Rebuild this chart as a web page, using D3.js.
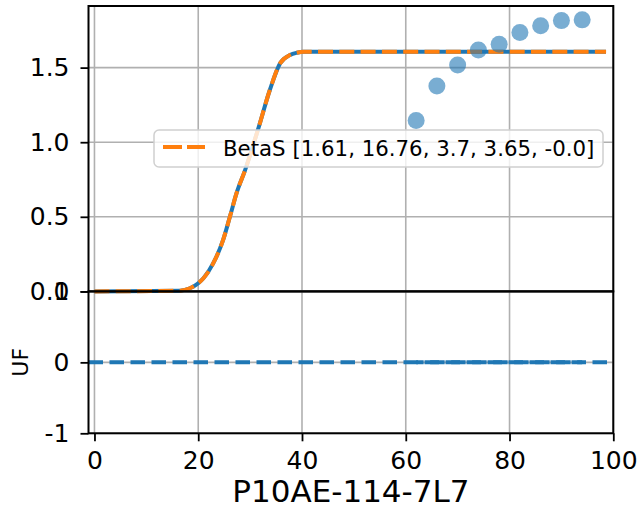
<!DOCTYPE html>
<html><head><meta charset="utf-8">
<script src="https://cdn.jsdelivr.net/npm/d3@7"></script>
<style>body{margin:0;background:#fff}svg{display:block}text{font-family:"DejaVu Sans",sans-serif}</style>
</head><body><svg id="c" width="642" height="507"></svg>
<script>
// ---- data ----
const pointX = [62, 66, 70, 74, 78, 82, 86, 90, 94];
const pointY = [1.145, 1.377, 1.518, 1.618, 1.657, 1.735, 1.781, 1.815, 1.82];
const curveX = [0, 16.5, 18.4, 20, 21.0, 22.9, 24.8, 26.1, 27.4, 29.0, 31.6, 33.8, 35.8, 37.7, 39, 40.3, 98.6];
const curveY = [0, 0.005, 0.021, 0.055, 0.088, 0.189, 0.345, 0.50, 0.66, 0.81, 1.094, 1.35, 1.53, 1.585, 1.60, 1.607, 1.607];
const residX = [62, 66, 70, 74, 78, 82, 86, 90, 94];
const residY = [0, 0, 0, 0, 0, 0, 0, 0, 0];
const xTicks = [0, 20, 40, 60, 80, 100];
const topTicks = [0.0, 0.5, 1.0, 1.5];
const botTicks = [-1, 0, 1];
const legendLabel = "BetaS [1.61, 16.76, 3.7, 3.65, -0.0]";
const xLabel = "P10AE-114-7L7";
const yLabelBottom = "UF";

const svg = d3.select("#c");
const L = 88.5, R = 613.3, T = 6, M = 291.4, B = 433.3;
const x = d3.scaleLinear().domain([-1.15, 100]).range([L, R]);
const yT = d3.scaleLinear().domain([0, 1.913]).range([M, T]);
const yB = d3.scaleLinear().domain([-1, 1]).range([B, M]);
const blue = "#1f77b4", orange = "#ff7f0e", grid = "#b0b0b0";

// grids
const g = svg.append("g");
xTicks.forEach(t => {
  g.append("line").attr("x1", x(t)).attr("x2", x(t)).attr("y1", T).attr("y2", B)
    .attr("stroke", grid).attr("stroke-width", 1.6);
});
topTicks.forEach(t => g.append("line").attr("x1", L).attr("x2", R).attr("y1", yT(t)).attr("y2", yT(t)).attr("stroke", grid).attr("stroke-width", 1.6));
botTicks.forEach(t => g.append("line").attr("x1", L).attr("x2", R).attr("y1", yB(t)).attr("y2", yB(t)).attr("stroke", grid).attr("stroke-width", 1.6));

// top panel curves
const curve = curveX.map((v, i) => [v, curveY[i]]);
const lineT = d3.line().x(d => x(d[0])).y(d => yT(d[1])).curve(d3.curveMonotoneX);
svg.append("path").attr("d", lineT(curve)).attr("fill", "none").attr("stroke", blue).attr("stroke-width", 4);
svg.append("path").attr("d", lineT(curve)).attr("fill", "none").attr("stroke", orange).attr("stroke-width", 4)
  .attr("stroke-dasharray", "15,6.3");

// points
svg.append("g").selectAll("circle").data(pointX.map((v, i) => [v, pointY[i]])).join("circle")
  .attr("cx", d => x(d[0])).attr("cy", d => yT(d[1])).attr("r", 8.5)
  .attr("fill", blue).attr("fill-opacity", 0.6);

// bottom panel
const lineB = d3.line().x(d => x(d[0])).y(d => yB(d[1]));
svg.append("path").attr("d", lineB([[-1.15, 0], [100, 0]])).attr("fill", "none").attr("stroke", blue)
  .attr("stroke-width", 4).attr("stroke-dasharray", "14.5,6.5");
svg.append("path").attr("d", lineB(residX.map((v, i) => [v, residY[i]]))).attr("fill", "none").attr("stroke", blue)
  .attr("stroke-width", 4).attr("stroke-dasharray", "14.5,6.5").attr("stroke-dashoffset", 7);

// legend
const lg = svg.append("g");
lg.append("rect").attr("x", 154).attr("y", 130).attr("width", 449).attr("height", 37).attr("rx", 5)
  .attr("fill", "#fff").attr("fill-opacity", 0.8).attr("stroke", "#d0d0d0").attr("stroke-width", 1.5);
lg.append("line").attr("x1", 163).attr("x2", 205).attr("y1", 147).attr("y2", 147)
  .attr("stroke", orange).attr("stroke-width", 4).attr("stroke-dasharray", "19,5");
lg.append("text").attr("x", 223).attr("y", 156).attr("font-size", 21.3).attr("fill", "#000").text(legendLabel);

// axes
const fmtT = d3.format(".1f");
const axT = svg.append("g").attr("transform", `translate(${L},0)`)
  .call(d3.axisLeft(yT).tickValues(topTicks).tickFormat(fmtT).tickSize(8).tickPadding(11));
const axB = svg.append("g").attr("transform", `translate(${L},0)`)
  .call(d3.axisLeft(yB).tickValues(botTicks).tickFormat(d3.format("d")).tickSize(8).tickPadding(11));
const axX = svg.append("g").attr("transform", `translate(0,${B})`)
  .call(d3.axisBottom(x).tickValues(xTicks).tickFormat(d3.format("d")).tickSize(8).tickPadding(10));
[axT, axB, axX].forEach(a => {
  a.select(".domain").remove();
  a.selectAll(".tick line").attr("stroke", "#000").attr("stroke-width", 1.8);
  a.selectAll("text").attr("font-size", 25).attr("fill", "#000").attr("font-family", "DejaVu Sans");
});
axB.selectAll("text").text(d => d < 0 ? "-" + Math.abs(d) : d);

// spines
[[T, M], [M, B]].forEach(([a, b]) => {
  svg.append("rect").attr("x", L).attr("y", a).attr("width", R - L).attr("height", b - a)
    .attr("fill", "none").attr("stroke", "#000").attr("stroke-width", 2);
});

// labels
svg.append("text").attr("x", (L + R) / 2).attr("y", 502).attr("text-anchor", "middle")
  .attr("font-size", 31).attr("fill", "#000").text(xLabel);
svg.append("text").attr("transform", `translate(28,${yB(0)}) rotate(-90)`).attr("text-anchor", "middle")
  .attr("font-size", 22).attr("fill", "#000").text(yLabelBottom);
</script></body></html>
